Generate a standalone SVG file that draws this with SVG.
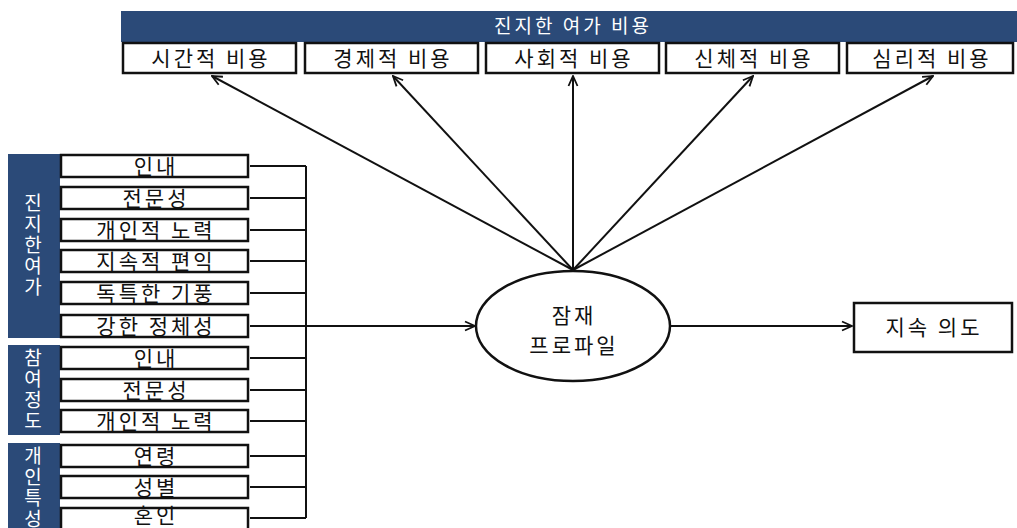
<svg xmlns="http://www.w3.org/2000/svg" width="1017" height="528" viewBox="0 0 1017 528">
<style>
.box{fill:#fff;stroke:#111;stroke-width:2.5}
.bar{fill:#2b4a78}
.t{font-family:"Noto Sans CJK KR","Noto Sans",sans-serif;font-size:21px;fill:#111;text-anchor:middle;letter-spacing:3px}
.w{font-family:"Noto Sans CJK KR","Noto Sans",sans-serif;font-size:19px;fill:#fff;text-anchor:middle}
.v{font-family:"Noto Sans CJK KR","Noto Sans",sans-serif;font-size:19px;fill:#fff;text-anchor:middle;writing-mode:vertical-rl;text-orientation:upright;letter-spacing:2px}
.ln{fill:none;stroke:#111;stroke-width:2}
.ar{fill:none;stroke:#111;stroke-width:2;marker-end:url(#ah)}
</style>
<defs>
<marker id="ah" viewBox="0 0 12 12" refX="11" refY="6" markerWidth="12" markerHeight="12" markerUnits="userSpaceOnUse" orient="auto">
<polyline points="1,1.5 11,6 1,10.5" fill="none" stroke="#111" stroke-width="1.8"/>
</marker>
</defs>
<rect width="1017" height="528" fill="#fff"/>
<g id="banner">
<rect class="bar" x="121" y="11" width="896" height="31"/>
<text class="w" x="573" y="33" font-size="20" letter-spacing="3">진지한 여가 비용</text>
</g>
<g id="cost-time"><rect class="box" x="123" y="43" width="173" height="30"/><text class="t" x="211" y="66">시간적 비용</text></g>
<g id="cost-econ"><rect class="box" x="305" y="43" width="173" height="30"/><text class="t" x="393" y="66">경제적 비용</text></g>
<g id="cost-social"><rect class="box" x="486" y="43" width="173" height="30"/><text class="t" x="574" y="66">사회적 비용</text></g>
<g id="cost-body"><rect class="box" x="666" y="43" width="173" height="30"/><text class="t" x="754" y="66">신체적 비용</text></g>
<g id="cost-psych"><rect class="box" x="847" y="43" width="166" height="30"/><text class="t" x="932" y="66">심리적 비용</text></g>

<g id="group-serious">
<rect class="bar" x="8" y="154" width="52" height="184"/>
<text class="v" x="33" y="246">진지한여가</text>
</g>
<g id="s-1"><rect class="box" x="61" y="155" width="187" height="22"/><text class="t" x="156" y="174">인내</text></g>
<g id="s-2"><rect class="box" x="61" y="187" width="187" height="22"/><text class="t" x="156" y="206">전문성</text></g>
<g id="s-3"><rect class="box" x="61" y="219" width="187" height="22"/><text class="t" x="156" y="238">개인적 노력</text></g>
<g id="s-4"><rect class="box" x="61" y="250" width="187" height="22"/><text class="t" x="156" y="269">지속적 편익</text></g>
<g id="s-5"><rect class="box" x="61" y="282" width="187" height="22"/><text class="t" x="156" y="301">독특한 기풍</text></g>
<g id="s-6"><rect class="box" x="61" y="315" width="187" height="22"/><text class="t" x="156" y="334">강한 정체성</text></g>

<g id="group-participation">
<rect class="bar" x="8" y="345" width="52" height="90"/>
<text class="v" x="33" y="390" letter-spacing="3">참여정도</text>
</g>
<g id="p-1"><rect class="box" x="61" y="347" width="187" height="22"/><text class="t" x="156" y="366">인내</text></g>
<g id="p-2"><rect class="box" x="61" y="379" width="187" height="22"/><text class="t" x="156" y="398">전문성</text></g>
<g id="p-3"><rect class="box" x="61" y="410" width="187" height="22"/><text class="t" x="156" y="429">개인적 노력</text></g>

<g id="group-personal">
<rect class="bar" x="8" y="443" width="52" height="85"/>
<text class="v" x="33" y="488">개인특성</text>
</g>
<g id="c-1"><rect class="box" x="61" y="445" width="187" height="22"/><text class="t" x="156" y="464">연령</text></g>
<g id="c-2"><rect class="box" x="61" y="476" width="187" height="22"/><text class="t" x="156" y="495">성별</text></g>
<g id="c-3"><rect class="box" x="61" y="508" width="187" height="24"/><text class="t" x="156" y="523" font-size="19">혼인</text></g>

<g id="latent-profile">
<ellipse cx="573" cy="326" rx="97" ry="55" fill="#fff" stroke="#111" stroke-width="2.5"/>
<text class="t" x="574" y="323">잠재</text>
<text class="t" x="574" y="353">프로파일</text>
</g>
<g id="intention">
<rect class="box" x="854" y="303" width="158" height="49"/>
<text class="t" x="934" y="335" font-size="22" letter-spacing="2">지속 의도</text>
</g>

<g id="connectors">
<path class="ln" d="M306 166 V518"/>
<path class="ln" d="M250 166 H306 M250 198 H306 M250 230 H306 M250 261 H306 M250 293 H306 M250 358 H306 M250 390 H306 M250 421 H306 M250 456 H306 M250 487 H306 M250 518 H306"/>
<path class="ar" d="M250 326 H475"/>
<path class="ar" d="M670 326 H852"/>
<path class="ar" d="M573 270 L212 76"/>
<path class="ar" d="M573 270 L393 76"/>
<path class="ar" d="M573 270 L573 76"/>
<path class="ar" d="M573 270 L753 76"/>
<path class="ar" d="M573 270 L933 76"/>
</g>
</svg>
